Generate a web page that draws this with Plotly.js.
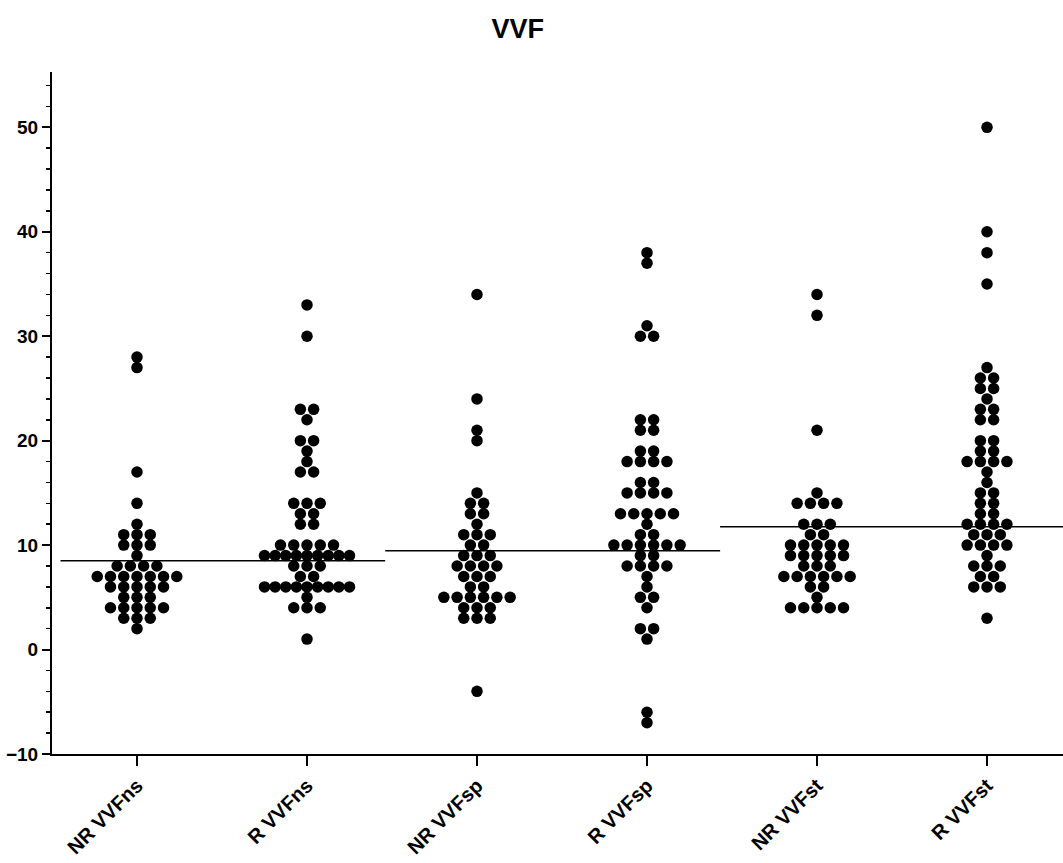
<!DOCTYPE html>
<html>
<head>
<meta charset="utf-8">
<script src="https://cdn.plot.ly/plotly-3.0.1.min.js"></script>
<style>html,body{margin:0;padding:0;background:#fff;}#chart{width:1063px;height:863px;}</style>
</head>
<body>
<div id="chart"></div>
<script>
// ---- data ----
const categories = ['NR VVFns', 'R VVFns', 'NR VVFsp', 'R VVFsp', 'NR VVFst', 'R VVFst'];

const nrVVFns = [28, 27, 17, 14, 12, 11, 11, 11, 10, 10, 10, 9, 8, 8, 8, 8,
  7, 7, 7, 7, 7, 7, 7, 6, 6, 6, 6, 6, 5, 5, 5, 4, 4, 4, 4, 4, 3, 3, 3, 2];

const rVVFns = [33, 30, 23, 23, 22, 20, 20, 19, 18, 17, 17, 14, 14, 14, 13, 13, 12, 12,
  10, 10, 10, 10, 10, 9, 9, 9, 9, 9, 9, 9, 9, 9, 8, 8, 8, 7, 7,
  6, 6, 6, 6, 6, 6, 6, 6, 6, 5, 4, 4, 4, 1];

const nrVVFsp = [34, 24, 21, 20, 15, 14, 14, 13, 13, 12, 11, 11, 11, 10, 10, 9, 9, 9,
  8, 8, 8, 8, 7, 7, 7, 6, 6, 5, 5, 5, 5, 5, 5, 4, 4, 4, 3, 3, 3, -4];

const rVVFsp = [38, 37, 31, 30, 30, 22, 22, 21, 21, 19, 19, 18, 18, 18, 18, 16, 16,
  15, 15, 15, 15, 13, 13, 13, 13, 13, 12, 11, 11, 10, 10, 10, 10, 10, 10, 9, 9,
  8, 8, 8, 8, 7, 6, 5, 5, 4, 2, 2, 1, -6, -7];

const nrVVFst = [34, 32, 21, 15, 14, 14, 14, 14, 12, 12, 12, 11, 11, 10, 10, 10, 10, 10,
  9, 9, 9, 9, 9, 8, 8, 8, 7, 7, 7, 7, 7, 7, 6, 6, 5, 4, 4, 4, 4, 4];

const rVVFst = [50, 40, 38, 35, 27, 26, 26, 25, 25, 24, 23, 23, 22, 22, 20, 20, 19, 19,
  18, 18, 18, 18, 17, 16, 15, 15, 14, 14, 13, 13, 12, 12, 12, 12, 11, 11, 11,
  10, 10, 10, 10, 9, 8, 8, 8, 7, 7, 6, 6, 6, 3];

// horizontal reference line levels, one per pair (ns, sp, st)
const pairLevels = [8.5, 9.45, 11.75];

// ---- build ----
const groups = [nrVVFns, rVVFns, nrVVFsp, rVVFsp, nrVVFst, rVVFst];
const traces = [];

groups.forEach((vals, gi) => {
  const counts = {};
  vals.forEach(v => { counts[v] = (counts[v] || 0) + 1; });
  const xs = [], ys = [];
  Object.keys(counts).forEach(k => {
    const n = counts[k];
    const step = n > 1 ? Math.min(0.078, 0.5 / (n - 1)) : 0;
    for (let j = 0; j < n; j++) {
      xs.push(gi + (j - (n - 1) / 2) * step);
      ys.push(Number(k));
    }
  });
  traces.push({
    type: 'scatter', mode: 'markers', x: xs, y: ys,
    marker: {color: '#000', size: 11.5, line: {width: 0}},
    hoverinfo: 'y', showlegend: false, cliponaxis: false
  });
});

const lineEdges = [-0.45, 1.46, 3.43, 5.46];
pairLevels.forEach((lvl, k) => {
  traces.push({
    type: 'scatter', mode: 'lines',
    x: [lineEdges[k], lineEdges[k + 1]], y: [lvl, lvl],
    line: {color: '#000', width: 1.5}, hoverinfo: 'skip', showlegend: false
  });
});

const fontFam = 'Liberation Sans, Arial, sans-serif';
const layout = {
  width: 1063, height: 863,
  margin: {l: 52, r: 0, t: 72, b: 109},
  paper_bgcolor: '#fff', plot_bgcolor: '#fff',
  font: {family: fontFam, color: '#000'},
  title: {
    text: 'VVF', font: {family: fontFam, size: 27, weight: 'bold', color: '#000'},
    xref: 'container', x: 0.487, xanchor: 'center',
    yref: 'container', y: 1 - 29 / 863, yanchor: 'middle'
  },
  xaxis: {
    range: [-0.5, 5.447],
    tickmode: 'array', tickvals: [0, 1, 2, 3, 4, 5], ticktext: categories,
    tickangle: -45,
    tickfont: {family: fontFam, size: 20, weight: 'bold', color: '#000'},
    showline: true, linecolor: '#000', linewidth: 2,
    ticks: 'outside', ticklen: 10, tickwidth: 2, tickcolor: '#000',
    showgrid: false, zeroline: false
  },
  yaxis: {
    range: [-10, 55.3],
    tick0: 0, dtick: 10,
    tickfont: {family: fontFam, size: 19, weight: 'bold', color: '#000'},
    showline: true, linecolor: '#000', linewidth: 2,
    ticks: 'outside', ticklen: 8, tickwidth: 2, tickcolor: '#000',
    minor: {dtick: 2, ticks: 'outside', ticklen: 4, tickwidth: 1.5, tickcolor: '#000', showgrid: false},
    showgrid: false, zeroline: false
  },
  showlegend: false
};

Plotly.newPlot('chart', traces, layout, {displayModeBar: false, staticPlot: true});
</script>
</body>
</html>
